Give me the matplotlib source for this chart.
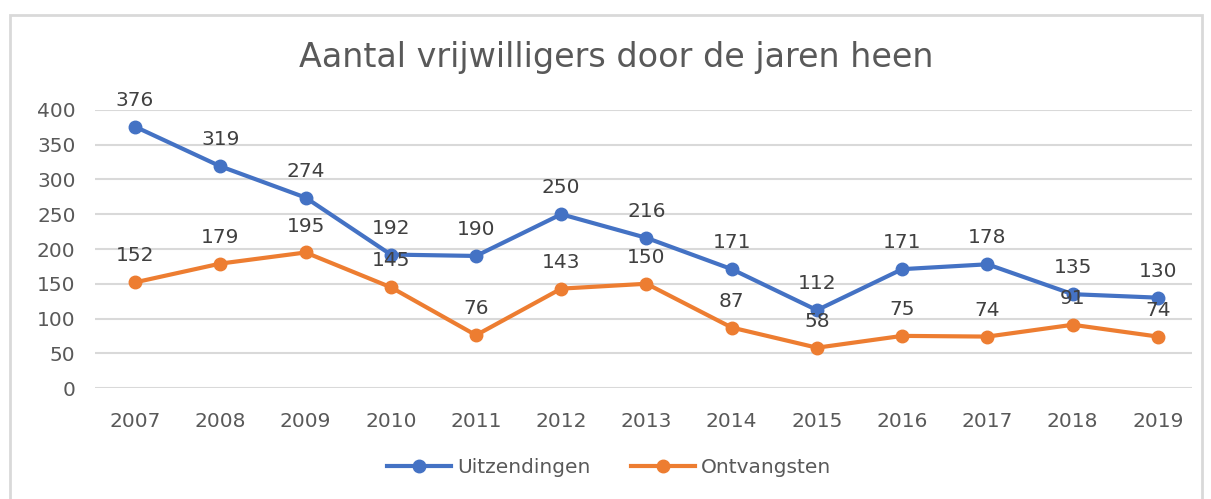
import matplotlib.pyplot as plt
from matplotlib.patches import Rectangle

jaren = ['2007', '2008', '2009', '2010', '2011', '2012', '2013',
         '2014', '2015', '2016', '2017', '2018', '2019']
uitzendingen = [376, 319, 274, 192, 190, 250, 216, 171, 112, 171, 178, 135, 130]
ontvangsten = [152, 179, 195, 145, 76, 143, 150, 87, 58, 75, 74, 91, 74]

plt.rcParams['font.family'] = ['DejaVu Sans']
grijs = '#595959'

fig = plt.figure(figsize=(12.11, 4.99), dpi=100)
ax = fig.add_axes([95 / 1211, 0.2224, 1097 / 1211, 0.5572])

# kader rond de grafiek
fig.patches.append(Rectangle((10 / 1211, -0.01), 1192 / 1211, 1 - 15 / 499 + 0.01,
                             transform=fig.transFigure, fill=False,
                             edgecolor='#d9d9d9', linewidth=2))

x = list(range(len(jaren)))
ax.plot(x, uitzendingen, color='#4472C4', linewidth=3, marker='o', markersize=9,
        label='Uitzendingen', zorder=3)
ax.plot(x, ontvangsten, color='#ED7D31', linewidth=3, marker='o', markersize=9,
        label='Ontvangsten', zorder=3)

for reeks in (uitzendingen, ontvangsten):
    for xi, v in zip(x, reeks):
        ax.annotate(str(v), (xi, v), xytext=(0, 19), textcoords='offset points',
                    ha='center', va='center', fontsize=14.5, color='#404040')

ax.set_xlim(-0.47, len(jaren) - 1 + 0.4)
ax.set_ylim(0, 400)
ax.set_yticks(range(0, 401, 50))
ax.set_xticks(x)
ax.set_xticklabels(jaren)
ax.tick_params(length=0, labelsize=14.5, labelcolor=grijs)
ax.tick_params(axis='x', pad=17)
ax.tick_params(axis='y', pad=14)
ax.grid(axis='y', color='#d9d9d9', linewidth=1.5)
ax.set_axisbelow(True)
for s in ax.spines.values():
    s.set_visible(False)

fig.text(0.509, 0.885, 'Aantal vrijwilligers door de jaren heen', ha='center',
         va='center', fontsize=24, color=grijs)

fig.legend(loc='center', bbox_to_anchor=(0.503, 0.063), ncol=2, frameon=False,
           fontsize=14.5, labelcolor=grijs, handlelength=3.2, columnspacing=2.0,
           handletextpad=0.3)

fig.savefig('out.png', dpi=100)
